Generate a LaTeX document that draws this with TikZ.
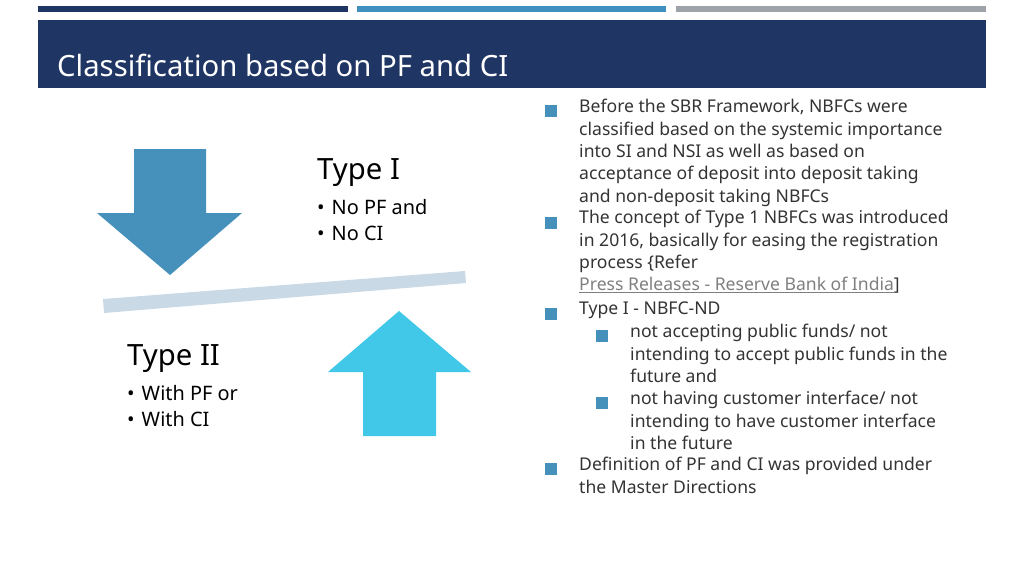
\documentclass[tikz,border=0pt]{standalone}
\usepackage{fontspec}
\setmainfont{Noto Sans}
\definecolor{navy}{HTML}{1F3564}
\definecolor{steel}{HTML}{4691BB}
\definecolor{cyanarr}{HTML}{41C8E8}
\definecolor{barblue}{HTML}{3F8FBF}
\definecolor{bargray}{HTML}{9EA3AA}
\definecolor{plank}{HTML}{C9D9E5}
\definecolor{txt}{HTML}{333333}
\definecolor{lnk}{HTML}{7F7F7F}
\tikzset{
  big/.style={font=\fontsize{25}{28}\selectfont, text=black, inner sep=0pt, anchor=base west},
  item/.style={font=\fontsize{17}{21}\selectfont, text=black, inner sep=0pt, anchor=base west},
  para/.style={font=\fontsize{15}{19.1}\selectfont, text=txt, inner sep=0pt, anchor=north west, align=left},
  sq/.style={fill=steel, minimum size=9.5pt, inner sep=0pt}
}
\begin{document}
\begin{tikzpicture}[x=0.03cm,y=-0.03cm]
			\useasboundingbox (0,0) rectangle (1024,576);
			% bars and title band
			\fill [navy] (38,6) rectangle (348,12);
			\fill [barblue] (357,6) rectangle (666,12);
			\fill [bargray] (676,6) rectangle (986,12);
			\fill [navy] (38,20) rectangle (986,88);
			\node [big, text=white] (title) at (57,76) {Classification based on PF and CI};
			% arrows and plank
			\fill [steel] (134,149) -- (206,149) -- (206,213) -- (242,213) -- (170,275) -- (97,213) -- (134,213) -- cycle;
			\fill [cyanarr] (363,436) -- (436,436) -- (436,372) -- (471,372) -- (399,311) -- (328,372) -- (363,372) -- cycle;
			\fill [plank] (103,299) -- (465,271) -- (466,283) -- (104,313) -- cycle;
			% left texts
			\node [big] (t1) at (317,179) {Type I};
			\node [item] (t1a) at (317,214) {\textbullet\hspace{6pt}No PF \textbf{and}};
			\node [item] (t1b) at (317,240) {\textbullet\hspace{6pt}No CI};
			\node [big] (t2) at (127,365) {Type II};
			\node [item] (t2a) at (127,400) {\textbullet\hspace{6pt}With PF \textbf{or}};
			\node [item] (t2b) at (127,426) {\textbullet\hspace{6pt}With CI};
			% right column
			\node [para] (p1) at (579,99) {Before the SBR Framework, NBFCs were\\classified based on the systemic importance\\into SI and NSI as well as based on\\acceptance of deposit into deposit taking\\and non-deposit taking NBFCs};
			\node [para] (p2) at (579,210) {The concept of Type 1 NBFCs was introduced\\in 2016, basically for easing the registration\\process \{Refer\\{\color{lnk}\underline{Press Releases - Reserve Bank of India}}]};
			\node [para] (p3) at (579,302) {Type I - NBFC-ND};
			\node [para] (p4) at (630,324) {not accepting public funds/ not\\intending to accept public funds in the\\future \textbf{and}};
			\node [para] (p5) at (630,391) {not having customer interface/ not\\intending to have customer interface\\in the future};
			\node [para] (p6) at (579,457) {Definition of PF and CI was provided under\\the Master Directions};
			\foreach \n/\y in {b1/111, b2/223, b3/314, b6/469} \node [sq] (\n) at (551,\y) {};
			\foreach \n/\y in {b4/336, b5/403} \node [sq] (\n) at (602,\y) {};
\end{tikzpicture}
\end{document}
